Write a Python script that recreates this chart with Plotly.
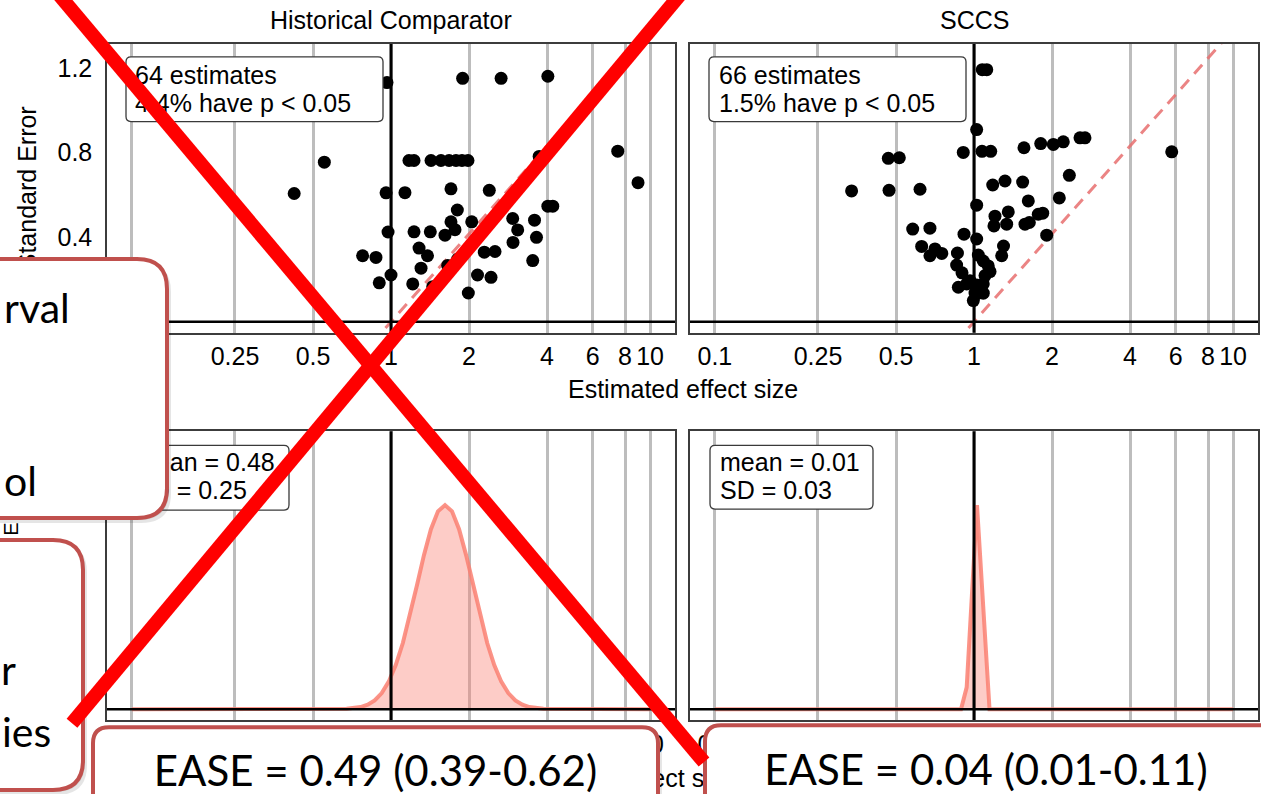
import math
import plotly.graph_objects as go

W, H = 1261, 794
CHART_FONT = "Liberation Sans, Arial, sans-serif"
SLIDE_FONT = "Lato, Carlito, Calibri, sans-serif"

# ---------------- data ----------------
tick_vals = [0.1, 0.25, 0.5, 1, 2, 4, 6, 8, 10]
tick_text = ["0.1", "0.25", "0.5", "1", "2", "4", "6", "8", "10"]
se_tick_vals = [0, 0.4, 0.8, 1.2]
se_tick_text = ["0", "0.4", "0.8", "1.2"]

panel_titles = ["Historical Comparator", "SCCS"]
x_title = "Estimated effect size"
y_title = "Standard Error"

hist_effect = [1.89, 2.66, 4.03, 0.965, 0.553, 0.423,
               1.173, 1.227, 1.427, 1.559, 1.675, 1.782, 1.879, 1.982,
               7.50, 8.98, 3.73, 0.957, 1.132, 1.704, 2.395, 1.803, 4.03, 4.21,
               1.704, 1.766, 1.616, 2.049, 2.949, 3.083, 3.58, 3.643, 2.957,
               0.974, 1.227, 1.418, 0.777, 0.875, 1.283, 1.383,
               1.306, 1.0, 0.901, 1.213, 1.449, 1.655, 1.809, 2.157, 2.432, 1.988,
               2.291, 2.52, 3.523]
hist_se = [1.15, 1.15, 1.16, 1.13, 0.754, 0.606,
           0.762, 0.762, 0.762, 0.762, 0.762, 0.762, 0.762, 0.762,
           0.806, 0.657, 0.781, 0.609, 0.610, 0.628, 0.621, 0.528, 0.546, 0.546,
           0.472, 0.435, 0.409, 0.472, 0.488, 0.434, 0.480, 0.399, 0.375,
           0.424, 0.425, 0.425, 0.312, 0.304, 0.348, 0.312,
           0.253, 0.221, 0.184, 0.179, 0.166, 0.266, 0.296, 0.221, 0.210, 0.136,
           0.329, 0.332, 0.289]

sccs_effect = [0.865, 1.076, 1.120, 1.024, 0.909, 1.074, 1.160, 0.467, 0.515, 1.559,
               1.809, 2.024, 2.211, 2.565, 2.681, 5.795, 0.337, 0.470, 0.619, 1.181,
               1.317, 1.541, 2.333, 1.620, 2.134, 1.024, 1.205, 1.356, 1.194, 1.337,
               1.573, 1.635, 1.770, 1.842, 1.908, 0.580, 0.676, 0.915, 1.024, 0.628,
               0.707, 0.751, 0.676, 0.863, 1.300, 1.279, 1.039, 1.086, 1.135, 1.153,
               1.103, 1.086, 1.055, 1.009, 0.857, 0.899, 0.937, 0.870, 0.965, 1.024,
               0.994, 1.086, 1.024]
sccs_se = [1.172, 1.191, 1.191, 0.908, 0.800, 0.805, 0.805, 0.772, 0.775, 0.822,
           0.842, 0.838, 0.850, 0.869, 0.869, 0.803, 0.618, 0.621, 0.626, 0.646,
           0.665, 0.660, 0.692, 0.571, 0.585, 0.551, 0.499, 0.519, 0.453, 0.461,
           0.461, 0.469, 0.508, 0.513, 0.409, 0.438, 0.442, 0.414, 0.391, 0.356,
           0.344, 0.323, 0.312, 0.325, 0.358, 0.312, 0.315, 0.287, 0.264, 0.237,
           0.218, 0.179, 0.147, 0.136, 0.268, 0.231, 0.179, 0.163, 0.194, 0.174,
           0.100, 0.135, 0.132]

# fitted systematic-error (null) distributions
hist_null_x = [0.1, 0.674, 0.763, 0.813, 0.865, 0.921, 0.980, 1.043, 1.111, 1.182,
               1.259, 1.340, 1.426, 1.518, 1.616, 1.720, 1.831, 1.949, 2.075, 2.209,
               2.351, 2.503, 2.664, 2.836, 3.019, 3.214, 3.421, 3.877, 10]
hist_null_density = [0, 0.0035, 0.0177, 0.036, 0.070, 0.127, 0.216, 0.345, 0.518, 0.731,
                     0.968, 1.205, 1.408, 1.547, 1.596, 1.547, 1.408, 1.205, 0.968, 0.731,
                     0.518, 0.345, 0.216, 0.127, 0.070, 0.036, 0.0177, 0.0035, 0]
sccs_null_x = [0.1, 0.891, 0.937, 1.027, 1.148, 10]
sccs_null_density = [0, 0, 1.43, 13.3, 0, 0]

boundary_z = 1.67   # slope of the dashed significance boundary (SE = ln(x) / z)

legend_est = [["64 estimates", "4.4% have p < 0.05"], ["66 estimates", "1.5% have p < 0.05"]]
legend_null = [["mean = 0.48", "SD = 0.25"], ["mean = 0.01", "SD = 0.03"]]
ease_text = ["EASE = 0.49 (0.39-0.62)", "EASE = 0.04 (0.01-0.11)"]
slide_fragments = ["rval", "ol", "r", "ies"]

# ---------------- layout helpers ----------------
def PX(p):
    return p / W

def PY(p):
    return 1 - p / H

xdom = [[PX(107), PX(675)], [PX(690), PX(1258)]]
ydom_top = [PY(334), PY(44)]
ydom_bot = [PY(723), PY(433)]
xrange_log = [-1.096, 1.096]
se_range = [-0.0518, 1.313]

fig = go.Figure()

axis_common = dict(showline=True, mirror=True, linecolor="#3c3c3c", linewidth=1.5,
                   zeroline=False)

def xaxis_cfg(dom, anchor):
    return dict(type="log", range=xrange_log, domain=dom, anchor=anchor,
                tickmode="array", tickvals=tick_vals, ticktext=tick_text,
                showgrid=True, gridcolor="#BDBDBD", gridwidth=2.5,
                ticks="outside", ticklen=1, tickcolor="rgba(0,0,0,0)",
                tickfont=dict(family=CHART_FONT, size=25, color="black"),
                **axis_common)

def yaxis_cfg(dom, anchor, rng, labels):
    d = dict(domain=dom, anchor=anchor, range=rng, showgrid=False, **axis_common)
    if labels:
        d.update(tickmode="array", tickvals=se_tick_vals, ticktext=se_tick_text,
                 ticks="outside", ticklen=8, tickcolor="rgba(0,0,0,0)",
                 tickfont=dict(family=CHART_FONT, size=25, color="black"))
    else:
        d.update(showticklabels=False, ticks="")
    return d

# ---------------- traces ----------------
bx = [math.exp(-0.1 * boundary_z), math.exp(1.5 * boundary_z)]
by = [math.log(v) / boundary_z for v in bx]

for i, (eff, se) in enumerate([(hist_effect, hist_se), (sccs_effect, sccs_se)]):
    xa = "x" if i == 0 else "x2"
    ya = "y" if i == 0 else "y2"
    fig.add_trace(go.Scatter(x=bx, y=by, mode="lines", xaxis=xa, yaxis=ya,
                             line=dict(color="rgba(232,110,110,0.85)", width=3, dash="12px,8px"),
                             hoverinfo="skip"))
    fig.add_trace(go.Scatter(x=eff, y=se, mode="markers", xaxis=xa, yaxis=ya,
                             marker=dict(color="black", size=13, line=dict(width=0))))
    fig.add_trace(go.Scatter(x=[1, 1], y=[-1, 3], mode="lines", xaxis=xa, yaxis=ya,
                             line=dict(color="black", width=3), hoverinfo="skip"))
    fig.add_trace(go.Scatter(x=[0.01, 100], y=[0, 0], mode="lines", xaxis=xa, yaxis=ya,
                             line=dict(color="black", width=2.5), hoverinfo="skip"))

for i, (nx, nd) in enumerate([(hist_null_x, hist_null_density), (sccs_null_x, sccs_null_density)]):
    xa = "x3" if i == 0 else "x4"
    ya = "y3" if i == 0 else "y4"
    fig.add_trace(go.Scatter(x=nx, y=nd, mode="lines", xaxis=xa, yaxis=ya, fill="tozeroy",
                             fillcolor="rgba(250,128,114,0.4)",
                             line=dict(color="rgba(250,128,114,0.85)", width=4)))
    fig.add_trace(go.Scatter(x=[1, 1], y=[-100, 100], mode="lines", xaxis=xa, yaxis=ya,
                             line=dict(color="black", width=3), hoverinfo="skip"))
    fig.add_trace(go.Scatter(x=[0.01, 100], y=[0, 0], mode="lines", xaxis=xa, yaxis=ya,
                             line=dict(color="black", width=2.5), hoverinfo="skip"))

bot_ranges = []
for nd in (hist_null_density, sccs_null_density):
    m = max(nd)
    bot_ranges.append([-0.0537 * m, 1.361 * m])

fig.update_layout(
    width=W, height=H, margin=dict(l=0, r=0, t=0, b=0),
    paper_bgcolor="white", plot_bgcolor="white", showlegend=False,
    font=dict(family=CHART_FONT, size=25, color="black"),
    xaxis=xaxis_cfg(xdom[0], "y"), yaxis=yaxis_cfg(ydom_top, "x", se_range, True),
    xaxis2=xaxis_cfg(xdom[1], "y2"), yaxis2=yaxis_cfg(ydom_top, "x2", se_range, False),
    xaxis3=xaxis_cfg(xdom[0], "y3"), yaxis3=yaxis_cfg(ydom_bot, "x3", bot_ranges[0], False),
    xaxis4=xaxis_cfg(xdom[1], "y4"), yaxis4=yaxis_cfg(ydom_bot, "x4", bot_ranges[1], False),
)

# ---------------- shapes ----------------
def rr_path(x0, y0, x1, y1, r):
    def P(x, y):
        return f"{PX(x):.5f},{PY(y):.5f}"
    return (f"M{P(x0 + r, y0)} L{P(x1 - r, y0)} Q{P(x1, y0)} {P(x1, y0 + r)} "
            f"L{P(x1, y1 - r)} Q{P(x1, y1)} {P(x1 - r, y1)} L{P(x0 + r, y1)} "
            f"Q{P(x0, y1)} {P(x0, y1 - r)} L{P(x0, y0 + r)} Q{P(x0, y0)} {P(x0 + r, y0)} Z")

def box(x0, y0, x1, y1, r, line_color, lw, fill="white"):
    return dict(type="path", xref="paper", yref="paper", path=rr_path(x0, y0, x1, y1, r),
                line=dict(color=line_color, width=lw), fillcolor=fill, layer="above")

def label(x, y, text, size, family, pos="middle left", angle=0, color="black"):
    w, h = 12, 12
    if pos == "middle left":
        x0, x1 = x, x + w
    else:
        x0, x1 = x - w / 2, x + w / 2
    return dict(type="rect", xref="paper", yref="paper",
                x0=PX(x0), x1=PX(x1), y0=PY(y + h / 2), y1=PY(y - h / 2),
                line=dict(width=0, color="rgba(0,0,0,0)"), fillcolor="rgba(0,0,0,0)", layer="above",
                label=dict(text=text, font=dict(size=size, family=family, color=color),
                           textposition=pos, textangle=angle, padding=0))

shapes = []
# in-panel legend boxes
legend_boxes = [(126, 57, 383, 122), (709, 57, 966, 122), (126, 447, 289, 512), (710, 447, 873, 511)]
for (x0, y0, x1, y1) in legend_boxes:
    shapes.append(box(x0, y0, x1, y1, 5, "#3a3a3a", 1.3))
for i, lines in enumerate(legend_est):
    xl = 132 if i == 0 else 716
    shapes.append(label(xl, 73, lines[0], 25, CHART_FONT))
    shapes.append(label(xl, 101, lines[1], 25, CHART_FONT))
for i, lines in enumerate(legend_null):
    xl = 132 if i == 0 else 717
    shapes.append(label(xl, 462, lines[0], 25, CHART_FONT))
    shapes.append(label(xl, 490, lines[1], 25, CHART_FONT))

# axis titles that sit underneath the slide overlays
shapes.append(label(25, 189, y_title, 25, CHART_FONT, pos="middle center", angle=-90))
shapes.append(label(621, 779, x_title, 25, CHART_FONT, pos="middle center"))
shapes.append(label(9, 531, "E", 20, CHART_FONT, pos="middle center", angle=-90))

# slide overlay boxes (with soft shadow)
slide_boxes = [(-60, 260, 167, 520, 30), (-60, 542, 83, 793, 30),
               (93, 730, 658, 860, 16), (705, 728, 1330, 860, 16)]
for (x0, y0, x1, y1, r) in slide_boxes:
    shapes.append(box(x0 + 2, y0 + 3, x1 + 4, y1 + 5, r, "rgba(0,0,0,0)", 0, "rgba(0,0,0,0.10)"))
    shapes.append(box(x0 + 1, y0 + 1, x1 + 2, y1 + 2, r, "rgba(0,0,0,0)", 0, "rgba(0,0,0,0.10)"))
for (x0, y0, x1, y1, r) in slide_boxes:
    shapes.append(box(x0, y0, x1, y1, r, "#C0504D", 4))

shapes.append(label(1, 308, slide_fragments[0], 41, SLIDE_FONT))
shapes.append(label(1, 481, slide_fragments[1], 41, SLIDE_FONT))
shapes.append(label(-2, 671, slide_fragments[2], 41, SLIDE_FONT))
shapes.append(label(-1, 733, slide_fragments[3], 41, SLIDE_FONT))
shapes.append(label(375.5, 772, ease_text[0], 42, SLIDE_FONT, pos="middle center"))
shapes.append(label(986, 771, ease_text[1], 42, SLIDE_FONT, pos="middle center"))

# big red cross
for (x0, y0, x1, y1) in [(55, -10, 704, 765), (684, -10, 72, 726)]:
    shapes.append(dict(type="line", xref="paper", yref="paper",
                       x0=PX(x0), y0=PY(y0), x1=PX(x1), y1=PY(y1),
                       line=dict(color="#FF0000", width=14), layer="above"))

fig.update_layout(shapes=shapes)

# ---------------- annotations (titles on top) ----------------
annots = [
    dict(text=panel_titles[0], x=PX(391), y=PY(20)),
    dict(text=panel_titles[1], x=PX(974), y=PY(20)),
    dict(text=x_title, x=PX(683), y=PY(390)),
]
for a in annots:
    a.update(xref="paper", yref="paper", xanchor="center", yanchor="middle", showarrow=False,
             font=dict(family=CHART_FONT, size=25, color="black"))
fig.update_layout(annotations=annots)

fig.write_html("out.html", config={"displayModeBar": False},
               post_script="document.body.style.margin='0';")
